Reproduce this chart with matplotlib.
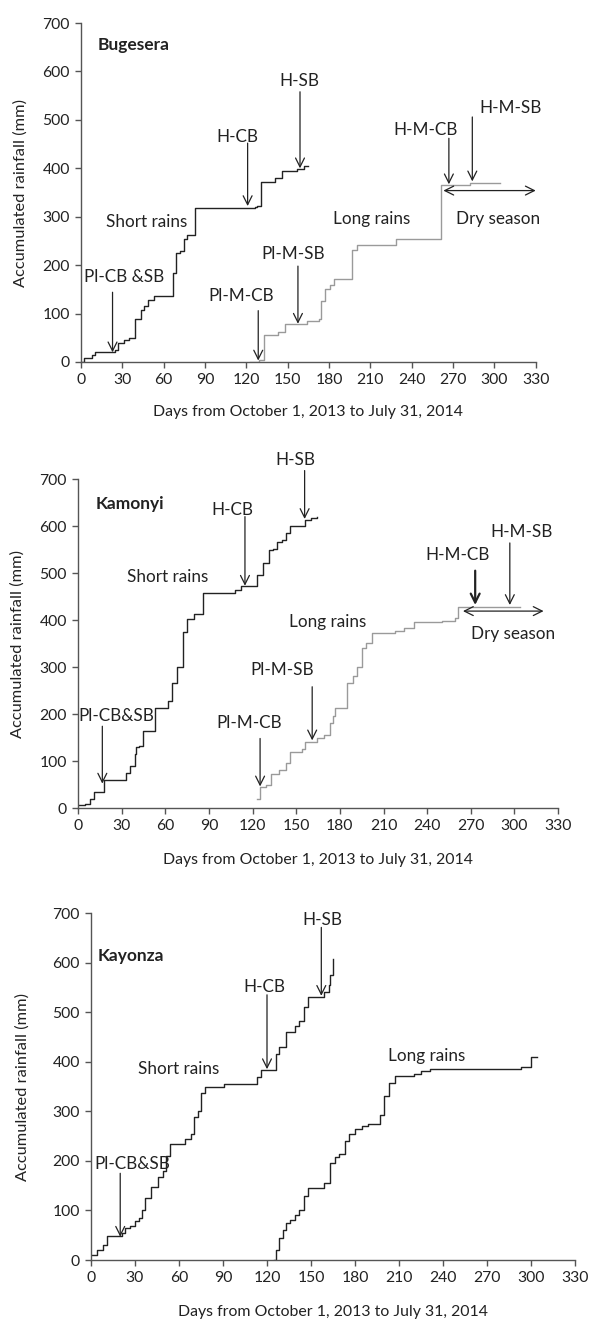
import numpy as np
import matplotlib
matplotlib.use('Agg')
import matplotlib.pyplot as plt

plt.rcParams['font.family'] = ['Lato', 'DejaVu Sans']

# accumulated rainfall, (day, mm), drawn as steps
bug_short_days = [0, 2, 8, 10, 25, 27, 31, 35, 39, 44, 46, 49, 53, 67, 69, 72, 75, 77, 83, 126, 128, 131, 141, 146, 157, 162, 165]
bug_short_mm = [0, 8, 14, 20, 24, 40, 45, 50, 88, 108, 115, 128, 137, 183, 225, 230, 255, 262, 317, 320, 323, 372, 380, 395, 398, 405, 405]
bug_long_days = [123, 129, 133, 143, 148, 164, 173, 174, 177, 181, 184, 197, 200, 229, 261, 282, 304]
bug_long_mm = [0, 5, 55, 62, 78, 85, 88, 125, 150, 160, 172, 232, 242, 255, 365, 370, 370]

kam_short_days = [0, 5, 8, 11, 18, 33, 36, 39, 40, 42, 45, 53, 62, 65, 68, 72, 75, 80, 86, 108, 112, 123, 127, 131, 134, 137, 140, 143, 146, 156, 160, 164]
kam_short_mm = [6, 8, 20, 35, 60, 75, 90, 115, 130, 133, 163, 213, 228, 265, 300, 375, 403, 412, 458, 464, 473, 495, 522, 548, 552, 565, 570, 585, 600, 612, 618, 620]
kam_long_days = [123, 125, 129, 133, 138, 143, 146, 154, 156, 164, 169, 173, 175, 177, 185, 189, 192, 195, 198, 202, 218, 224, 231, 250, 259, 261, 304]
kam_long_mm = [20, 45, 50, 72, 80, 95, 120, 125, 140, 150, 155, 180, 195, 212, 265, 280, 300, 340, 352, 372, 376, 383, 395, 398, 405, 428, 428]

kay_short_days = [0, 4, 8, 11, 21, 23, 27, 30, 33, 35, 37, 41, 46, 49, 51, 54, 64, 68, 70, 73, 75, 78, 91, 113, 116, 126, 128, 133, 139, 142, 145, 148, 159, 162, 163, 165]
kay_short_mm = [11, 20, 30, 48, 55, 65, 68, 78, 85, 100, 125, 147, 168, 180, 210, 235, 245, 255, 288, 300, 337, 350, 356, 370, 383, 415, 430, 460, 472, 483, 510, 530, 540, 555, 575, 608]
kay_long_days = [124.5, 126, 128, 131, 133, 136, 139, 142, 145, 148, 159, 163, 166, 169, 173, 176, 180, 185, 189, 197, 200, 203, 207, 220, 225, 231, 293, 300, 304]
kay_long_mm = [0, 20, 45, 60, 75, 80, 90, 100, 130, 145, 155, 195, 208, 213, 240, 255, 265, 270, 275, 292, 330, 358, 372, 375, 381, 386, 389, 410, 410]

xticks = np.arange(0, 331, 30)
yticks = np.arange(0, 701, 100)

dark = '#222222'
grey = '#9a9a9a'

fig = plt.figure(figsize=(5.9, 13.24), dpi=100)
axes = [fig.add_axes([0.137, 0.7266, 0.771, 0.256]),
        fig.add_axes([0.132, 0.3897, 0.814, 0.2485]),
        fig.add_axes([0.154, 0.0483, 0.821, 0.2621])]
# label anchors: right edge of y label, top of x label
ylab_x = [-0.116, -0.110, -0.126]
xlab_y = [-0.127, -0.137, -0.130]

curves = [
    (bug_short_days, bug_short_mm, bug_long_days, bug_long_mm, grey),
    (kam_short_days, kam_short_mm, kam_long_days, kam_long_mm, grey),
    (kay_short_days, kay_short_mm, kay_long_days, kay_long_mm, dark),
]


def arrow(ax, x, y0, y1, lw=0.9):
    ax.annotate('', xy=(x, y1), xytext=(x, y0),
                arrowprops=dict(arrowstyle='->', lw=lw, color=dark,
                                shrinkA=0, shrinkB=0, mutation_scale=16))


for i, ax in enumerate(axes):
    sd, sm, ld, lm, lc = curves[i]
    ax.plot(sd, sm, drawstyle='steps-post', color=dark, lw=1.0)
    ax.plot(ld, lm, drawstyle='steps-post', color=lc, lw=1.0)
    ax.set_xlim(0, 330)
    ax.set_ylim(0, 700)
    ax.set_xticks(xticks)
    ax.set_yticks(yticks)
    ax.spines['top'].set_visible(False)
    ax.spines['right'].set_visible(False)
    for s in ['left', 'bottom']:
        ax.spines[s].set_color('#555555')
        ax.spines[s].set_linewidth(1.0)
    ax.tick_params(direction='out', length=4, width=1, color='#555555',
                   labelsize=11.3, labelcolor='#222222', pad=4)
    ax.set_xlabel('Days from October 1, 2013 to July 31, 2014', fontsize=11.4, color='#222222')
    ax.set_ylabel('Accumulated rainfall (mm)', fontsize=11.8, color='#222222')
    ax.yaxis.set_label_coords(ylab_x[i], 0.5)
    ax.xaxis.set_label_coords(0.5, xlab_y[i])

fs = 12.3
tk = dict(fontsize=fs, color='#222222', ha='center', va='center')
bold = dict(fontsize=12.5, fontweight='bold', color='#222222', ha='left', va='center')

# Bugesera
ax = axes[0]
ax.text(12.3, 655, 'Bugesera', **bold)
ax.text(31.5, 175, 'Pl-CB &SB', **tk)
arrow(ax, 23, 144, 20)
ax.text(48, 289, 'Short rains', **tk)
ax.text(113.6, 465, 'H-CB', **tk)
arrow(ax, 121, 452, 322)
ax.text(158.3, 580, 'H-SB', **tk)
arrow(ax, 159, 558, 400)
ax.text(116.4, 137, 'Pl-M-CB', **tk)
arrow(ax, 128.7, 106, 3)
ax.text(154, 224, 'Pl-M-SB', **tk)
arrow(ax, 157.5, 198, 79)
ax.text(210.8, 296, 'Long rains', **tk)
ax.text(250, 480, 'H-M-CB', **tk)
arrow(ax, 267, 462, 367)
ax.text(311.4, 525, 'H-M-SB', **tk)
arrow(ax, 284, 506, 373)
ax.annotate('', xy=(330, 354), xytext=(263, 354),
            arrowprops=dict(arrowstyle='<->', lw=0.9, color=dark,
                            shrinkA=0, shrinkB=0, mutation_scale=16))
ax.text(302.6, 296, 'Dry season', **tk)

# Kamonyi
ax = axes[1]
ax.text(12.4, 647, 'Kamonyi', **bold)
ax.text(26.7, 195, 'Pl-CB&SB', **tk)
arrow(ax, 16.8, 174, 52)
ax.text(61.7, 492, 'Short rains', **tk)
ax.text(106.5, 634, 'H-CB', **tk)
arrow(ax, 114.8, 620, 473)
ax.text(149.3, 741, 'H-SB', clip_on=False, **tk)
arrow(ax, 155.8, 718, 615)
ax.text(118, 180, 'Pl-M-CB', **tk)
arrow(ax, 125.2, 148, 46)
ax.text(140.7, 293, 'Pl-M-SB', **tk)
arrow(ax, 161, 258, 144)
ax.text(171.8, 396, 'Long rains', **tk)
ax.text(261, 539, 'H-M-CB', **tk)
arrow(ax, 273, 505, 432, lw=1.6)
ax.text(305, 588, 'H-M-SB', **tk)
arrow(ax, 296.8, 564, 432)
ax.annotate('', xy=(320, 419), xytext=(264.6, 419),
            arrowprops=dict(arrowstyle='<->', lw=0.9, color=dark,
                            shrinkA=0, shrinkB=0, mutation_scale=16))
ax.text(298.9, 370, 'Dry season', **tk)

# Kayonza
ax = axes[2]
ax.text(4.6, 614, 'Kayonza', **bold)
ax.text(28.2, 194, 'Pl-CB&SB', **tk)
arrow(ax, 20, 175, 47)
ax.text(59.6, 386, 'Short rains', **tk)
ax.text(118, 551, 'H-CB', **tk)
arrow(ax, 120, 535, 385)
ax.text(157.4, 686, 'H-SB', **tk)
arrow(ax, 157, 671, 533)
ax.text(228.5, 411, 'Long rains', **tk)

fig.savefig('out.png', dpi=100)
